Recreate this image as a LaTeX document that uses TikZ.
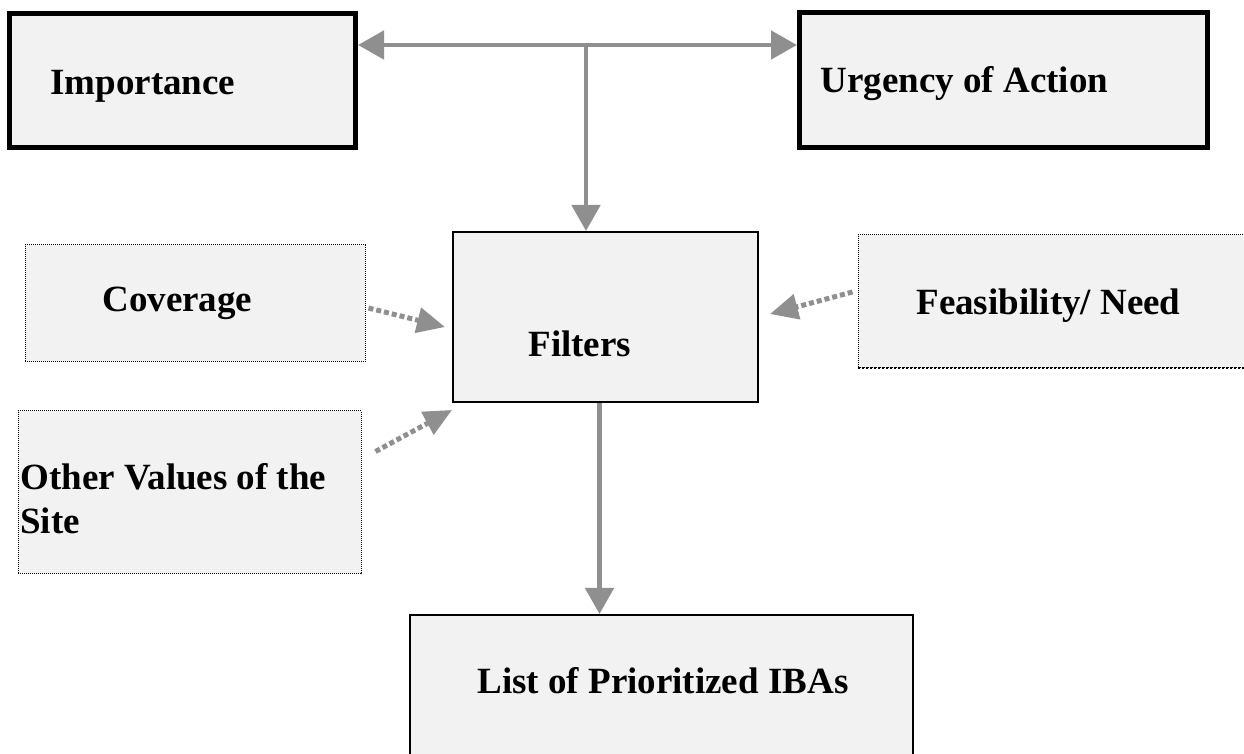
\documentclass[tikz,border=0pt]{standalone}
\usepackage{fontspec}
\setmainfont{Liberation Serif}
\usepackage{xcolor}
\usepackage{tikz}
\usetikzlibrary{arrows.meta, positioning, calc}

\definecolor{boxgray}{RGB}{242,242,242}
\definecolor{arrgray}{RGB}{143,143,143}

\tikzset{
  thickbox/.style={draw, line width=2.5pt, fill=boxgray, inner sep=0pt},
  thinbox/.style={draw, line width=1pt, fill=boxgray, inner sep=0pt},
  dotbox/.style={draw, line width=0.5pt, dash pattern=on 0.5pt off 0.5pt, fill=boxgray, inner sep=0pt},
  boxtext/.style={anchor=base west, inner sep=0pt, font=\bfseries\fontsize{18.5}{21.5}\selectfont},
  solidarr/.style={draw=arrgray, line width=2.4pt, -{Triangle[length=13pt,width=14pt]}},
  dotarr/.style={draw=arrgray, line width=2.5pt, dash pattern=on 2.5pt off 1.5pt, -{Triangle[length=14pt,width=12.5pt]}}
}

\begin{document}
\begin{tikzpicture}[x=0.5pt, y=-0.5pt]
            \useasboundingbox (0,0) rectangle (1244,754);

            % boxes
            \node[thickbox, minimum width=173pt, minimum height=67pt] (imp) at (182.5,80.5) {};
            \node[thickbox, minimum width=204pt, minimum height=67.5pt] (urg) at (1003.5,80) {};
            \node[thinbox, minimum width=152.5pt, minimum height=85pt] (filt) at (605.5,317) {};
            \node[thinbox, minimum width=251.5pt, minimum height=87.5pt] (list) at (661.5,702.5) {};
            \node[dotbox, minimum width=170pt, minimum height=58.5pt] (cov) at (195,303.5) {};
            \node[dotbox, minimum width=171.5pt, minimum height=81.5pt] (oth) at (189.5,492.5) {};
            \node[dotbox, minimum width=206pt, minimum height=66.5pt] (feas) at (1064,301.5) {};
            \draw[line width=1pt, dash pattern=on 1pt off 1pt] (feas.south west) -- (feas.south east);

            % texts
            \node[boxtext] (imptext) at (50,95) {Importance};
            \node[boxtext] (urgtext) at (820,93) {Urgency of Action};
            \node[boxtext] (filttext) at (528,357) {Filters};
            \node[boxtext] (listtext) at (477,693) {List of Prioritized IBAs};
            \node[boxtext] (covtext) at (102,312) {Coverage};
            \node[boxtext] (othtext) at (20,490) {Other Values of the};
            \node[boxtext] (sitetext) at (20,533) {Site};
            \node[boxtext] (feastext) at (916,315) {Feasibility/ Need};

            % solid connectors
            \coordinate (hub) at (586,45);
            \draw[solidarr, {Triangle[length=13pt,width=14pt]}-{Triangle[length=13pt,width=14pt]}]
              (imp.east |- hub) -- (urg.west |- hub);
            \draw[solidarr] (hub) -- (filt.north -| hub);
            \draw[solidarr] ([xshift=-3pt]filt.south) -- ([xshift=-3pt]filt.south |- list.north);

            % dotted connectors
            \draw[dotarr] ([shift={(3,4.5)}]cov.east) -- ([shift={(-7,10)}]filt.west);
            \draw[dotarr] ([shift={(14,41)}]oth.north east) -- ([shift={(0,7)}]filt.south west);
            \draw[dotarr] ([shift={(-5,-9.5)}]feas.west) -- ([shift={(11,-3)}]filt.east);
\end{tikzpicture}
\end{document}
